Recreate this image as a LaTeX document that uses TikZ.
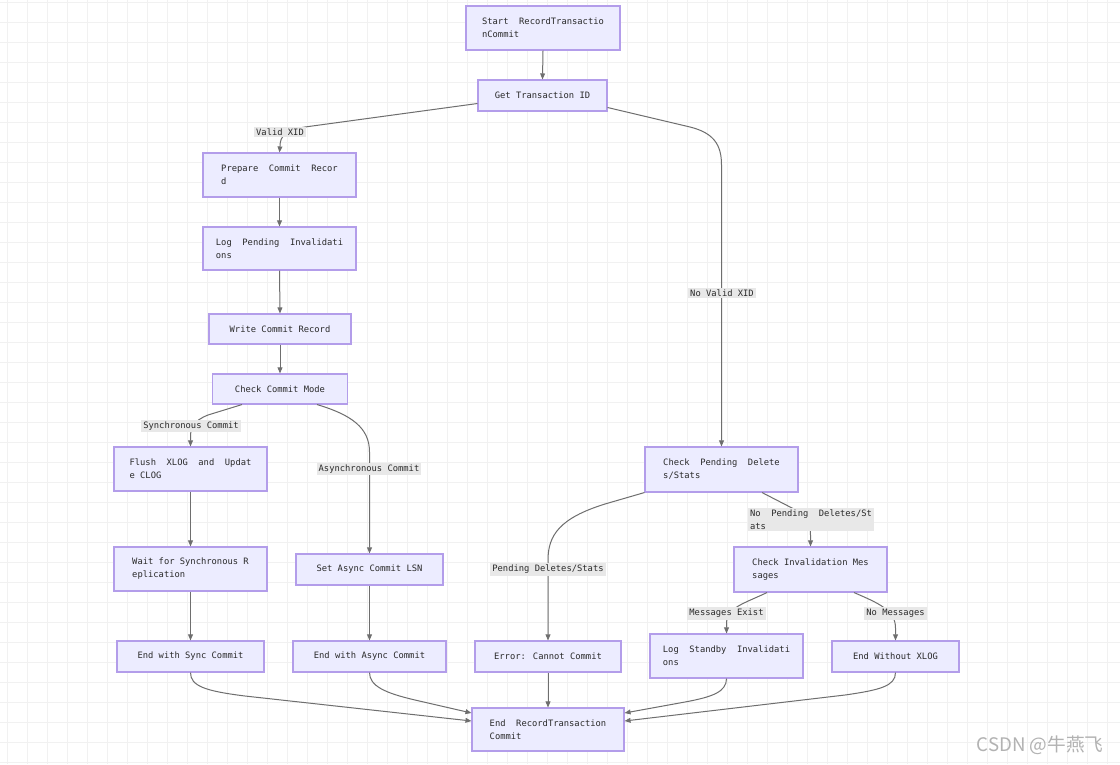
\documentclass[tikz,border=0pt]{standalone}
\usepackage{fontspec}
\newfontfamily\mmd{DejaVu Sans Mono}
\newfontfamily\cjkf{Noto Sans CJK SC}
\usetikzlibrary{arrows.meta,calc}
\definecolor{nfill}{HTML}{ECECFF}
\definecolor{nborder}{HTML}{B39DEA}
\definecolor{ntext}{HTML}{2A2A2A}
\definecolor{ecol}{HTML}{6E6E6E}
\definecolor{lbg}{HTML}{E8E8E8}
\definecolor{gridc}{HTML}{F1F1F1}
\begin{document}
\begin{tikzpicture}[x=0.75pt,y=-0.75pt,
  txt/.style={font=\mmd\fontsize{6.6pt}{9.75pt}\selectfont,text=ntext},
  box/.style={txt,draw=nborder,fill=nfill,line width=0.8pt,inner sep=0pt,align=left},
  sz/.style 2 args={minimum width=#1*0.75pt,minimum height=#2*0.75pt},
  elabel/.style={txt,fill=lbg,inner sep=1.5pt,align=left},
  conn/.style={draw=ecol,line width=0.75pt,-{Triangle[length=4.5pt,width=3.6pt]}},
  gridline/.style={draw=gridc,line width=0.75pt}]
\fill[white] (0,0) rectangle (1120,764);
\useasboundingbox (0,0) rectangle (1120,764);
\foreach \x in {7,27,...,1107} \draw[gridline] (\x,0) -- (\x,764);
\foreach \y in {2,22,...,762} \draw[gridline] (0,\y) -- (1120,\y);

% nodes
\node[box,sz={154}{44}] (start) at (543,28) {Start\ \ RecordTransactio\\nCommit};
\node[box,sz={129}{31}] (get) at (542.5,95.5) {Get Transaction ID};
\node[box,sz={153}{44}] (prep) at (279.5,175) {Prepare\ \ Commit\ \ Recor\\d};
\node[box,sz={153}{43}] (logp) at (279.5,248.5) {Log\ \ Pending\ \ Invalidati\\ons};
\node[box,sz={142}{30}] (write) at (280,329) {Write Commit Record};
\node[box,sz={135}{30}] (mode) at (280,389) {Check Commit Mode};
\node[box,sz={153}{44}] (flush) at (190.5,469) {Flush\ \ XLOG\ \ and\ \ Updat\\e CLOG};
\node[box,sz={153}{44}] (wait) at (190.5,569) {Wait for Synchronous R\\eplication};
\node[box,sz={147}{31}] (async) at (369.5,569.5) {Set Async Commit LSN};
\node[box,sz={147}{31}] (esync) at (190.5,656.5) {End with Sync Commit};
\node[box,sz={153}{31}] (easync) at (369.5,656.5) {End with Async Commit};
\node[box,sz={146}{31}] (err) at (548,656.5) {Error: Cannot Commit};
\node[box,sz={152}{43}] (endn) at (548,729.5) {End\ \ RecordTransaction\\Commit};
\node[box,sz={153}{45}] (cpend) at (721.5,469.5) {Check\ \ Pending\ \ Delete\\s/Stats};
\node[box,sz={153}{45}] (cinval) at (810.5,569.5) {Check Invalidation Mes\\sages};
\node[box,sz={153}{44}] (lstand) at (726.5,656) {Log\ \ Standby\ \ Invalidati\\ons};
\node[box,sz={127}{31}] (ewo) at (895.5,656.5) {End Without XLOG};

% connectors
\draw[conn] (start.south) -- (get.north);
\draw[conn] ($(get.west)+(0,8)$) -- (305,127) .. controls (286,130) and (280,136) .. (280,146) -- (prep.north);
\draw[conn] ($(get.east)+(0,12)$) -- (690,127) .. controls (714,133) and (721.5,145) .. (721.5,165) -- (cpend.north);
\draw[conn] (prep.south) -- (logp.north);
\draw[conn] (logp.south) -- (write.north);
\draw[conn] (write.south) -- (mode.north);
\draw[conn] ($(mode.south)+(-38,0)$) -- (208,415) .. controls (193,421) and (190.5,428) .. (190.5,437) -- (flush.north);
\draw[conn] ($(mode.south)+(37,0)$) .. controls (352,415) and (369.5,428) .. (369.5,452) -- (async.north);
\draw[conn] (flush.south) -- (wait.north);
\draw[conn] (wait.south) -- (esync.north);
\draw[conn] (async.south) -- (easync.north);
\draw[conn] (cpend.south west) -- (605,504) .. controls (560,518) and (548,535) .. (548,560) -- (err.north);
\draw[conn] ($(cpend.south)+(40.5,0)$) -- (792,508) .. controls (806,515) and (810.5,523) .. (810.5,535) -- (cinval.north);
\draw[conn] ($(cinval.south)+(-43.5,0)$) .. controls (745,603) and (726.5,608) .. (726.5,622) -- (lstand.north);
\draw[conn] ($(cinval.south)+(43.5,0)$) .. controls (878,603) and (895.5,610) .. (895.5,628) -- (ewo.north);
\draw[conn] (esync.south) .. controls (190.5,686) and (205,691) .. (245,696) -- ($(endn.west)+(0,-8.5)$);
\draw[conn] (easync.south) .. controls (369.5,686) and (385,693) .. (415,700) -- ($(endn.west)+(0,-16.5)$);
\draw[conn] (err.south) -- (endn.north);
\draw[conn] (lstand.south) .. controls (726.5,692) and (712,697) .. (685,702) -- ($(endn.east)+(0,-16.5)$);
\draw[conn] (ewo.south) .. controls (895.5,686) and (880,690) .. (845,695) -- ($(endn.east)+(0,-8.5)$);

% edge labels
\node[elabel] (lvalid) at (280,132) {Valid XID};
\node[elabel] (lnovalid) at (722,293) {No Valid XID};
\node[elabel] (lsync) at (191,426) {Synchronous Commit};
\node[elabel] (lasync) at (369,469) {Asynchronous Commit};
\node[elabel] (lpend) at (548,569.5) {Pending Deletes/Stats};
\node[elabel] (lnopend) at (811,519.5) {No\ \ Pending\ \ Deletes/St\\ats};
\node[elabel] (lmsg) at (726.5,613.5) {Messages Exist};
\node[elabel] (lnomsg) at (895.5,613.5) {No Messages};

% watermark
\node[text=black!30,font=\cjkf\fontsize{14pt}{14pt}\selectfont] (wm) at (1040,745) {CSDN @牛燕飞};
\end{tikzpicture}
\end{document}
